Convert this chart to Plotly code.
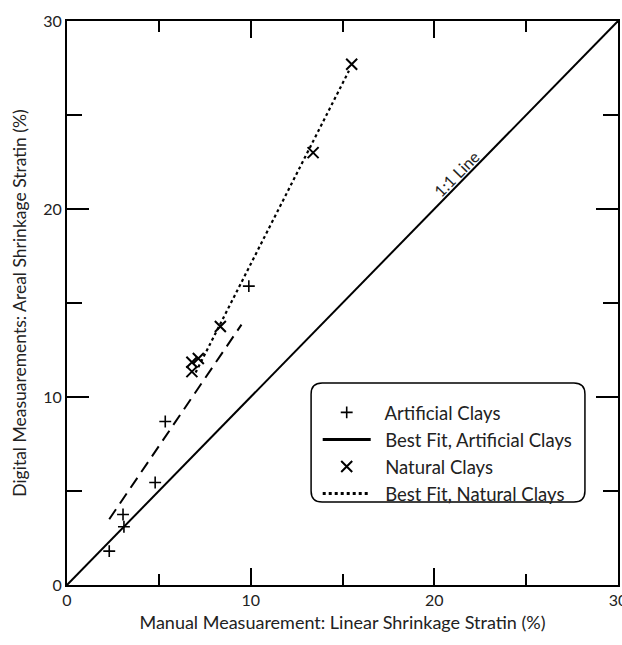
import plotly.graph_objects as go

# Data
art_x = [2.3, 3.1, 3.05, 4.8, 5.35, 9.9]
art_y = [1.8, 3.1, 3.75, 5.45, 8.7, 15.9]
nat_x = [6.8, 6.8, 7.15, 8.35, 13.4, 15.5]
nat_y = [11.35, 11.85, 12.05, 13.75, 23.0, 27.7]
art_fit_x = [2.3, 9.5]
art_fit_y = [3.5, 13.85]
nat_fit_x = [7.0, 15.35]
nat_fit_y = [11.3, 27.35]
one_x = [0, 30]
one_y = [0, 30]
ticks = [0, 10, 20, 30]
minor_ticks = [5, 15, 25]
legend_names = ["Artificial Clays", "Best Fit, Artificial Clays",
                "Natural Clays", "Best Fit, Natural Clays"]

FONT = "Lato"
TXT = "#222222"
PAD = "\u00a0\u00a0"

fig = go.Figure()
fig.add_trace(go.Scatter(x=one_x, y=one_y, mode="lines", line=dict(color="black", width=2),
                         showlegend=False, hoverinfo="skip"))
fig.add_trace(go.Scatter(x=art_fit_x, y=art_fit_y, mode="lines",
                         line=dict(color="black", width=2, dash="12px,7px"),
                         showlegend=False))
fig.add_trace(go.Scatter(x=nat_fit_x, y=nat_fit_y, mode="lines",
                         line=dict(color="black", width=2.2, dash="dot"),
                         showlegend=False))
fig.add_trace(go.Scatter(x=art_x, y=art_y, mode="markers", name=PAD + legend_names[0],
                         marker=dict(symbol="cross-thin-open", size=8.5, color="black",
                                     line=dict(width=1.6, color="black"))))
fig.add_trace(go.Scatter(x=[None], y=[None], mode="lines", name=PAD + legend_names[1],
                         line=dict(color="black", width=3)))
fig.add_trace(go.Scatter(x=nat_x, y=nat_y, mode="markers", name=PAD + legend_names[2],
                         marker=dict(symbol="x-thin-open", size=11, color="black",
                                     line=dict(width=2, color="black"))))
fig.add_trace(go.Scatter(x=[None], y=[None], mode="lines", name=PAD + legend_names[3],
                         line=dict(color="black", width=3, dash="dot")))

def axis(ticklen, minorlen):
    return dict(range=[0, 30], showgrid=False, zeroline=False, showline=True,
                linecolor="black", linewidth=2, mirror="ticks", ticks="inside",
                ticklen=ticklen, tickwidth=2, tickcolor="black", tickvals=ticks,
                ticklabeloverflow="allow",
                tickfont=dict(family=FONT, size=16, color=TXT),
                minor=dict(tickvals=minor_ticks, ticks="inside", ticklen=minorlen,
                           tickwidth=2, tickcolor="black"))

fig.update_xaxes(**axis(17, 11), automargin=False,
                 title=dict(text="Manual Measuarement: Linear Shrinkage Stratin (%)",
                            font=dict(family=FONT, size=18, color=TXT), standoff=8))
fig.update_yaxes(**axis(22, 15),
                 title=dict(text="Digital Measuarements: Areal Shrinkage Stratin (%)",
                            font=dict(family=FONT, size=17.5, color=TXT), standoff=12))

# rounded legend box
x0, x1, y0, y1, r = 0.443, 0.940, 0.147, 0.358, 0.02
ry = r * 553 / 564
path = (f"M {x0+r},{y0} L {x1-r},{y0} Q {x1},{y0} {x1},{y0+ry} "
        f"L {x1},{y1-ry} Q {x1},{y1} {x1-r},{y1} L {x0+r},{y1} Q {x0},{y1} {x0},{y1-ry} "
        f"L {x0},{y0+ry} Q {x0},{y0} {x0+r},{y0} Z")
fig.add_shape(type="path", path=path, xref="paper", yref="paper",
              line=dict(color="black", width=1.5), fillcolor="white", layer="below")

fig.add_annotation(x=21.2, y=21.9, text="1:1 Line", showarrow=False, textangle=-45.6,
                   font=dict(family=FONT, size=16, color=TXT))

fig.update_layout(
    width=622, height=645,
    margin=dict(l=67, r=2, t=21, b=60),
    paper_bgcolor="white", plot_bgcolor="white",
    legend=dict(x=0.455, y=0.339, xanchor="left", yanchor="top",
                bgcolor="rgba(0,0,0,0)", borderwidth=0,
                font=dict(family=FONT, size=18.5, color=TXT),
                itemwidth=48, tracegroupgap=0),
)

fig.write_html("out.html")
